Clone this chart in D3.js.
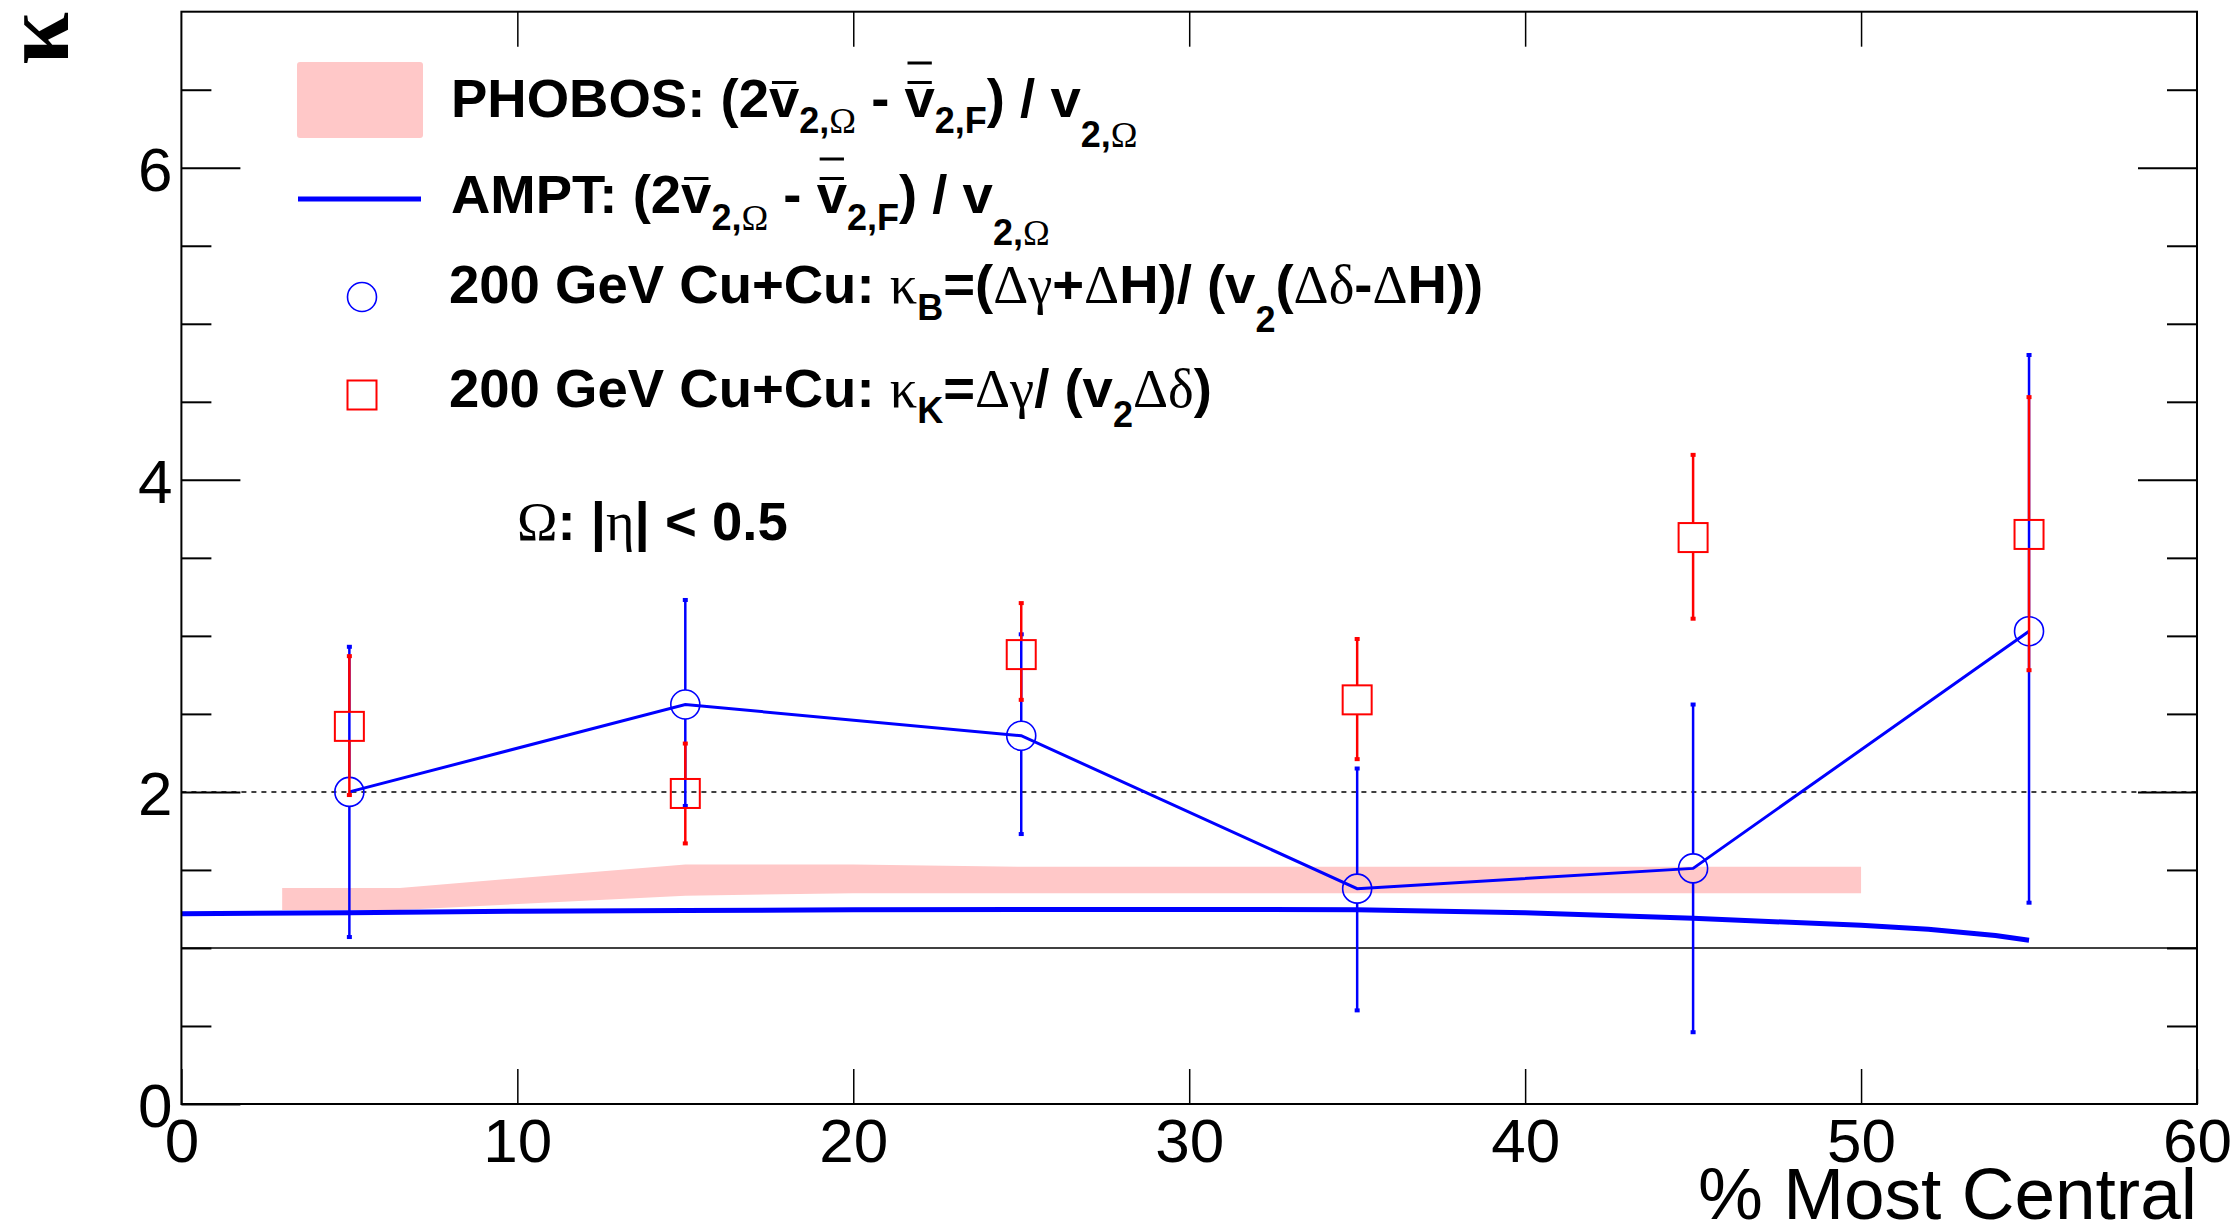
<!DOCTYPE html>
<html>
<head>
<meta charset="utf-8">
<script src="https://cdn.jsdelivr.net/npm/d3@7"></script>
<style>
body { margin: 0; background: #fff; }
text { white-space: pre; }
</style>
</head>
<body>
<div id="chart"></div>
<script>
// values
var centrality = [5, 15, 25, 35, 45, 55];
var kappaB   = [2.00, 2.56, 2.36, 1.38, 1.51, 3.03];
var kappaBHi = [2.93, 3.23, 3.01, 2.15, 2.56, 4.80];
var kappaBLo = [1.07, 1.91, 1.73, 0.60, 0.46, 1.29];
var kappaK   = [2.42, 1.99, 2.88, 2.59, 3.63, 3.65];
var kappaKHi = [2.87, 2.31, 3.21, 2.98, 4.16, 4.53];
var kappaKLo = [1.98, 1.67, 2.59, 2.21, 3.11, 2.78];

var amptX = [0, 5, 10, 15, 20, 25, 30, 35, 40, 45, 50, 52, 54, 55];
var amptK = [1.22, 1.225, 1.235, 1.24, 1.245, 1.247, 1.247, 1.245, 1.225, 1.19, 1.145, 1.12, 1.08, 1.05];

var phobosX  = [3, 6.5, 15, 20, 25, 50];
var phobosHi = [1.385, 1.385, 1.535, 1.535, 1.52, 1.52];
var phobosLo = [1.243, 1.243, 1.335, 1.35, 1.35, 1.35];

var xTicks = [0, 10, 20, 30, 40, 50, 60];
var yTicks = [0, 2, 4, 6];
var yMinor = d3.range(0.5, 7, 0.5).filter(d => d % 2 != 0);

var svgWidth = 2239;
var svgHeight = 1226;
var margin = {top: 11.7, right: 42, bottom: 122, left: 181.4};
var chartWidth = svgWidth - margin.left - margin.right;
var chartHeight = svgHeight - margin.top - margin.bottom;

var svg = d3.select("#chart")
    .append("svg")
    .attr("width", svgWidth)
    .attr("height", svgHeight)
    .style("background", "#fff");

var chartGroup = svg.append("g")
    .attr("transform", `translate(${margin.left}, ${margin.top})`);

var xScale = d3.scaleLinear().domain([0, 60]).range([0, chartWidth]);
var yScale = d3.scaleLinear().domain([0, 7]).range([chartHeight, 0]);

var bRows = centrality.map((c, i) => ({x: c, y: kappaB[i], lo: kappaBLo[i], hi: kappaBHi[i]}));
var kRows = centrality.map((c, i) => ({x: c, y: kappaK[i], lo: kappaKLo[i], hi: kappaKHi[i]}));
var amptRows = amptX.map((c, i) => ({x: c, y: amptK[i]}));
var phobosRows = phobosX.map((c, i) => ({x: c, lo: phobosLo[i], hi: phobosHi[i]}));

// PHOBOS band
var band = d3.area()
    .x(d => xScale(d.x))
    .y0(d => yScale(d.lo))
    .y1(d => yScale(d.hi));
chartGroup.append("path")
    .datum(phobosRows)
    .attr("d", band)
    .attr("fill", "#ffc8c8");

// reference lines at 1 and 2
chartGroup.append("line")
    .attr("x1", 0).attr("x2", chartWidth)
    .attr("y1", yScale(1)).attr("y2", yScale(1))
    .attr("stroke", "#000").attr("stroke-width", 1.5);
chartGroup.append("line")
    .attr("x1", 0).attr("x2", chartWidth)
    .attr("y1", yScale(2)).attr("y2", yScale(2))
    .attr("stroke", "#000").attr("stroke-width", 1.5)
    .attr("stroke-dasharray", "5,5");

var line = d3.line().x(d => xScale(d.x)).y(d => yScale(d.y));

// AMPT
chartGroup.append("path")
    .datum(amptRows)
    .attr("d", line)
    .attr("fill", "none")
    .attr("stroke", "#0000ff")
    .attr("stroke-width", 5)
    .attr("stroke-linejoin", "round");

// kappa_B connecting line
chartGroup.append("path")
    .datum(bRows)
    .attr("d", line)
    .attr("fill", "none")
    .attr("stroke", "#0000ff")
    .attr("stroke-width", 3);

var half = 14.5;

function drawErrors(rows, color) {
    var g = chartGroup.append("g");
    var up = g.selectAll(".up").data(rows.filter(d => yScale(d.hi) < yScale(d.y) - half)).enter();
    up.append("line")
        .attr("x1", d => xScale(d.x)).attr("x2", d => xScale(d.x))
        .attr("y1", d => yScale(d.hi)).attr("y2", d => yScale(d.y) - half)
        .attr("stroke", color).attr("stroke-width", 2.5);
    var dn = g.selectAll(".dn").data(rows.filter(d => yScale(d.lo) > yScale(d.y) + half)).enter();
    dn.append("line")
        .attr("x1", d => xScale(d.x)).attr("x2", d => xScale(d.x))
        .attr("y1", d => yScale(d.y) + half).attr("y2", d => yScale(d.lo))
        .attr("stroke", color).attr("stroke-width", 2.5);
    g.selectAll(".capHi").data(rows).enter().append("rect")
        .attr("x", d => xScale(d.x) - 2.5).attr("y", d => yScale(d.hi) - 2)
        .attr("width", 5).attr("height", 4).attr("fill", color);
    g.selectAll(".capLo").data(rows).enter().append("rect")
        .attr("x", d => xScale(d.x) - 2.5).attr("y", d => yScale(d.lo) - 2)
        .attr("width", 5).attr("height", 4).attr("fill", color);
    return g;
}

var bErr = drawErrors(bRows, "#0000ff");
chartGroup.selectAll(".circ").data(bRows).enter()
    .append("circle")
    .attr("cx", d => xScale(d.x))
    .attr("cy", d => yScale(d.y))
    .attr("r", half)
    .attr("fill", "none")
    .attr("stroke", "#0000ff")
    .attr("stroke-width", 1.6);

var kErr = drawErrors(kRows, "#ff0000");
chartGroup.selectAll(".sq").data(kRows).enter()
    .append("rect")
    .attr("x", d => xScale(d.x) - half)
    .attr("y", d => yScale(d.y) - half)
    .attr("width", 2 * half)
    .attr("height", 2 * half)
    .attr("fill", "none")
    .attr("stroke", "#ff0000")
    .attr("stroke-width", 2);

// axes
function styleAxis(g, w) {
    g.select(".domain").remove();
    g.selectAll(".tick line").attr("stroke", "#000").attr("stroke-width", w);
    g.selectAll(".tick text")
        .attr("fill", "#000")
        .attr("font-family", "Liberation Sans, Arial, sans-serif")
        .attr("font-size", 62);
}

var xAxis = chartGroup.append("g")
    .attr("transform", `translate(0,${chartHeight})`)
    .call(d3.axisBottom(xScale).tickValues(xTicks).tickSize(-35).tickPadding(14).tickFormat(d3.format("d")));
styleAxis(xAxis, 1.5);

var xTop = chartGroup.append("g")
    .call(d3.axisTop(xScale).tickValues(xTicks.slice(1, -1)).tickSize(-35).tickFormat(""));
styleAxis(xTop, 1.5);

var yAxis = chartGroup.append("g")
    .call(d3.axisLeft(yScale).tickValues(yTicks).tickSize(-59).tickPadding(9).tickFormat(d3.format("d")));
styleAxis(yAxis, 2);
yAxis.selectAll(".tick text").attr("dy", "0.36em");

var yLeftMinor = chartGroup.append("g")
    .call(d3.axisLeft(yScale).tickValues(yMinor).tickSize(-30).tickFormat(""));
styleAxis(yLeftMinor, 2);

var yRight = chartGroup.append("g")
    .attr("transform", `translate(${chartWidth},0)`)
    .call(d3.axisRight(yScale).tickValues(yTicks.slice(1)).tickSize(-59).tickFormat(""));
styleAxis(yRight, 2);

var yRightMinor = chartGroup.append("g")
    .attr("transform", `translate(${chartWidth},0)`)
    .call(d3.axisRight(yScale).tickValues(yMinor).tickSize(-30).tickFormat(""));
styleAxis(yRightMinor, 2);

// frame
chartGroup.append("rect")
    .attr("width", chartWidth)
    .attr("height", chartHeight)
    .attr("fill", "none")
    .attr("stroke", "#000")
    .attr("stroke-width", 2);

// axis titles
svg.append("text")
    .attr("x", margin.left + chartWidth)
    .attr("y", 1219)
    .attr("text-anchor", "end")
    .attr("font-family", "Liberation Sans, Arial, sans-serif")
    .attr("font-size", 73)
    .text("% Most Central");

svg.append("text")
    .attr("transform", "translate(68,12) rotate(-90)")
    .attr("text-anchor", "end")
    .attr("font-family", "Liberation Serif, serif")
    .attr("font-weight", "bold")
    .attr("font-size", 95)
    .text("κ");

// legend
var mainSize = 54.5, subSize = 36;

function drawTex(parent, x0, y0, pieces) {
    var x = x0;
    pieces.forEach(function(p) {
        var sub = p.f[0] == "s";
        var greek = p.f[p.f.length - 1] == "g";
        var t = parent.append("text")
            .attr("x", x)
            .attr("y", y0 + (p.dy || 0))
            .attr("font-family", greek ? "Liberation Serif, serif" : "Liberation Sans, Arial, sans-serif")
            .attr("font-weight", greek ? "normal" : "bold")
            .attr("font-size", sub ? subSize : mainSize)
            .text(p.t);
        var w = t.node().getComputedTextLength();
        for (var i = 0; i < (p.bar || 0); i++) {
            parent.append("line")
                .attr("x1", x + 3).attr("x2", x + w - 3)
                .attr("y1", y0 - 34.5 - i * 19.5).attr("y2", y0 - 34.5 - i * 19.5)
                .attr("stroke", "#000").attr("stroke-width", 3);
        }
        x += w;
    });
}

var legend = svg.append("g");

legend.append("rect")
    .attr("x", 297).attr("y", 62).attr("width", 126).attr("height", 76)
    .attr("rx", 3).attr("fill", "#ffc8c8");
legend.append("line")
    .attr("x1", 298).attr("x2", 421).attr("y1", 199).attr("y2", 199)
    .attr("stroke", "#0000ff").attr("stroke-width", 5);
legend.append("circle")
    .attr("cx", 362).attr("cy", 297).attr("r", half)
    .attr("fill", "none").attr("stroke", "#0000ff").attr("stroke-width", 1.6);
legend.append("rect")
    .attr("x", 362 - half).attr("y", 395 - half).attr("width", 2 * half).attr("height", 2 * half)
    .attr("fill", "none").attr("stroke", "#ff0000").attr("stroke-width", 2);

function ratioPieces(name, d1, d2) {
    return [
        {t: name + ": (2", f: "b"},
        {t: "v", f: "b", bar: 1},
        {t: "2,", f: "sb", dy: d1}, {t: "Ω", f: "sg", dy: d1},
        {t: " - ", f: "b"},
        {t: "v", f: "b", bar: 2},
        {t: "2,F", f: "sb", dy: d1},
        {t: ") / ", f: "b"},
        {t: "v", f: "b"},
        {t: "2,", f: "sb", dy: d2}, {t: "Ω", f: "sg", dy: d2}
    ];
}

drawTex(legend, 451, 117, ratioPieces("PHOBOS", 16, 30));
drawTex(legend, 451, 213, ratioPieces("AMPT", 17, 32));

drawTex(legend, 449, 303, [
    {t: "200 GeV Cu+Cu: ", f: "b"},
    {t: "κ", f: "g"},
    {t: "B", f: "sb", dy: 17},
    {t: "=(", f: "b"},
    {t: "Δγ", f: "g"},
    {t: "+", f: "b"},
    {t: "Δ", f: "g"},
    {t: "H)/ (v", f: "b"},
    {t: "2", f: "sb", dy: 29},
    {t: "(", f: "b"},
    {t: "Δδ", f: "g"},
    {t: "-", f: "b"},
    {t: "Δ", f: "g"},
    {t: "H))", f: "b"}
]);

drawTex(legend, 449, 407, [
    {t: "200 GeV Cu+Cu: ", f: "b"},
    {t: "κ", f: "g"},
    {t: "K", f: "sb", dy: 16},
    {t: "=", f: "b"},
    {t: "Δγ", f: "g"},
    {t: "/ (v", f: "b"},
    {t: "2", f: "sb", dy: 20},
    {t: "Δδ", f: "g"},
    {t: ")", f: "b"}
]);

drawTex(svg, 517, 540, [
    {t: "Ω", f: "g"},
    {t: ": |", f: "b"},
    {t: "η", f: "g"},
    {t: "| < 0.5", f: "b"}
]);
</script>
</body>
</html>
